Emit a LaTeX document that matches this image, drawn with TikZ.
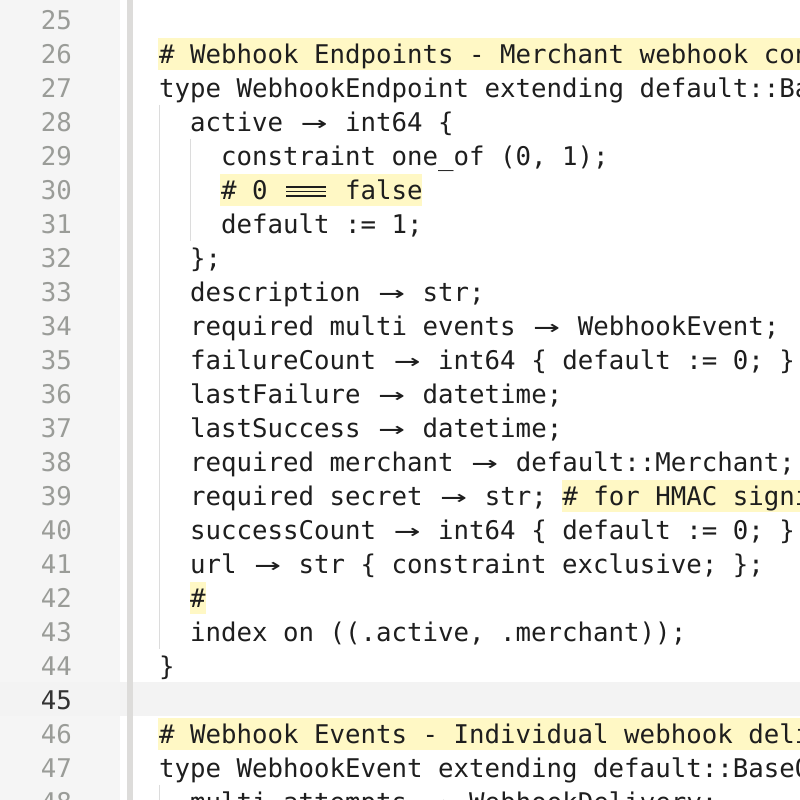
\documentclass[tikz,border=0pt]{standalone}
\usepackage{fontspec}
\setmonofont{DejaVu Sans Mono}
\definecolor{gut}{HTML}{F5F5F5}
\definecolor{bar}{HTML}{DDDCDA}
\definecolor{cur}{HTML}{F3F3F3}
\definecolor{hl}{HTML}{FFF8C5}
\definecolor{num}{HTML}{9A9C98}
\definecolor{txt}{HTML}{1E1E1E}
\definecolor{guide}{HTML}{DCDCDC}
\newcommand\arr{\makebox[31pt]{\scalebox{1.7}[1]{→}}}
\newcommand\eqq{\makebox[46.5pt]{\rlap{\rule[2.5pt]{40pt}{1.6pt}}\rlap{\rule[7pt]{40pt}{1.6pt}}\rule[11.5pt]{40pt}{1.6pt}}}
\begin{document}
\begin{tikzpicture}[x=1pt,y=1pt,
  codeline/.style={anchor=base west,inner sep=0pt,text=txt,font=\ttfamily\fontsize{25.75pt}{30pt}\selectfont},
  lnum/.style={anchor=base east,inner sep=0pt,text=num,font=\ttfamily\fontsize{25.75pt}{30pt}\selectfont}]
\useasboundingbox (0,0) rectangle (800,800);
\clip (0,0) rectangle (800,800);
\fill[white] (0,0) rectangle (800,800);
\fill[gut] (0,0) rectangle (120,800);
\fill[cur] (0,800-682) rectangle (800,800-716);
\fill[bar] (127,0) rectangle (133,800);
% comment highlights
\foreach \ln/\xa/\xb in {26/158/800,30/220/422,39/562/800,42/190/206,46/158/800}{
  \pgfmathsetmacro\c{800-(20+(\ln-25)*34)}
  \fill[hl] (\xa,\c-16) rectangle (\xb,\c+16);
}
% indent guides
\draw[guide,line width=1.5pt] (159.5,800-105) -- (159.5,800-649);
\draw[guide,line width=1.5pt] (190.5,800-139) -- (190.5,800-241);
\draw[guide,line width=1.5pt] (159.5,800-785) -- (159.5,0);
% line numbers
\foreach \ln in {25,...,48}{
  \pgfmathsetmacro\b{800-(20+(\ln-25)*34)-9.5}
  \ifnum\ln=45
    \node[lnum,text=black!80] (n\ln) at (72,\b) {\ln};
  \else
    \node[lnum] (n\ln) at (72,\b) {\ln};
  \fi
}
\newcommand\cl[3]{\pgfmathsetmacro\b{800-(20+(#1-25)*34)-9.5}\node[codeline] (l#1) at (159+#2*15.5,\b) {#3};}
\cl{26}{0}{\# Webhook Endpoints - Merchant webhook configurations}
\cl{27}{0}{type WebhookEndpoint extending default::BaseObject \{}
\cl{28}{2}{active \arr{} int64 \{}
\cl{29}{4}{constraint one\_of (0, 1);}
\cl{30}{4}{\# 0 \eqq{} false}
\cl{31}{4}{default := 1;}
\cl{32}{2}{\};}
\cl{33}{2}{description \arr{} str;}
\cl{34}{2}{required multi events \arr{} WebhookEvent;}
\cl{35}{2}{failureCount \arr{} int64 \{ default := 0; \}}
\cl{36}{2}{lastFailure \arr{} datetime;}
\cl{37}{2}{lastSuccess \arr{} datetime;}
\cl{38}{2}{required merchant \arr{} default::Merchant;}
\cl{39}{2}{required secret \arr{} str; \# for HMAC signing}
\cl{40}{2}{successCount \arr{} int64 \{ default := 0; \}}
\cl{41}{2}{url \arr{} str \{ constraint exclusive; \};}
\cl{42}{2}{\#}
\cl{43}{2}{index on ((.active, .merchant));}
\cl{44}{0}{\}}
\cl{46}{0}{\# Webhook Events - Individual webhook delivery events}
\cl{47}{0}{type WebhookEvent extending default::BaseObject \{}
\cl{48}{2}{multi attempts \arr{} WebhookDelivery;}
\end{tikzpicture}
\end{document}
